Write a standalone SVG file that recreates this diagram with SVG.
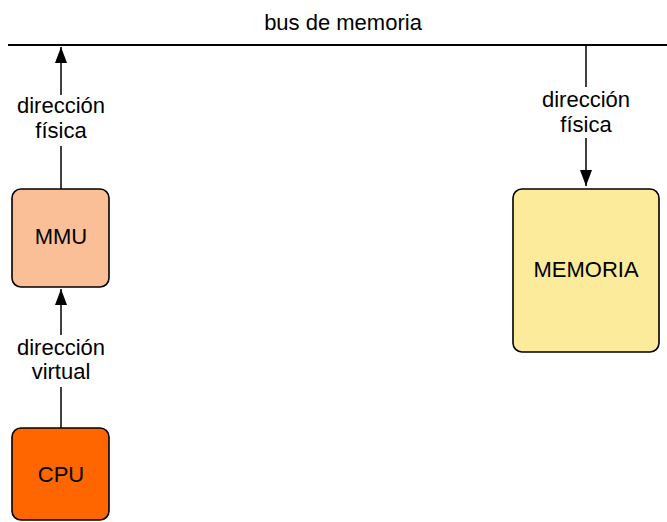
<svg xmlns="http://www.w3.org/2000/svg" width="667" height="522" viewBox="0 0 667 522">
<defs>
<style>
text{font-family:"Liberation Sans",Arial,Helvetica,sans-serif;font-size:22px;fill:#000;text-anchor:middle}
.box{stroke:#000;stroke-width:1.6}
.conn{stroke:#000;stroke-width:1.5;fill:none}
.bus{stroke:#000;stroke-width:2;fill:none}
.lblbg{fill:#fff}
</style>
<marker id="arr" viewBox="0 0 16 12" markerWidth="16" markerHeight="12" refX="16" refY="6" orient="auto" markerUnits="userSpaceOnUse">
<path d="M0,0 L16,6 L0,12 Z" fill="#000"/>
</marker>
</defs>
<rect width="667" height="522" fill="#fff"/>
<g id="bus">
<line class="bus" x1="8" y1="45" x2="667" y2="45"/>
<text x="343" y="30">bus de memoria</text>
</g>
<g id="connectors">
<line class="conn" x1="61" y1="189" x2="61" y2="47" marker-end="url(#arr)"/>
<line class="conn" x1="61" y1="428" x2="61" y2="289" marker-end="url(#arr)"/>
<line class="conn" x1="586" y1="45" x2="586" y2="186" marker-end="url(#arr)"/>
<rect class="lblbg" x="14" y="95" width="94" height="51"/>
<rect class="lblbg" x="14" y="335" width="94" height="52"/>
<rect class="lblbg" x="539" y="87" width="94" height="51"/>
<text x="61" y="113">dirección</text>
<text x="61" y="137.5">física</text>
<text x="61" y="355">dirección</text>
<text x="61" y="379">virtual</text>
<text x="586" y="107">dirección</text>
<text x="586" y="131.5">física</text>
</g>
<g id="mmu">
<rect class="box" x="12" y="189" width="97" height="98" rx="9" fill="#FBBF97"/>
<text x="61" y="244">MMU</text>
</g>
<g id="cpu">
<rect class="box" x="12" y="428" width="97" height="92" rx="9" fill="#FF6600"/>
<text x="61" y="482">CPU</text>
</g>
<g id="memoria">
<rect class="box" x="513" y="189" width="146" height="163" rx="9" fill="#FCEB9A"/>
<text x="586" y="277">MEMORIA</text>
</g>
</svg>
